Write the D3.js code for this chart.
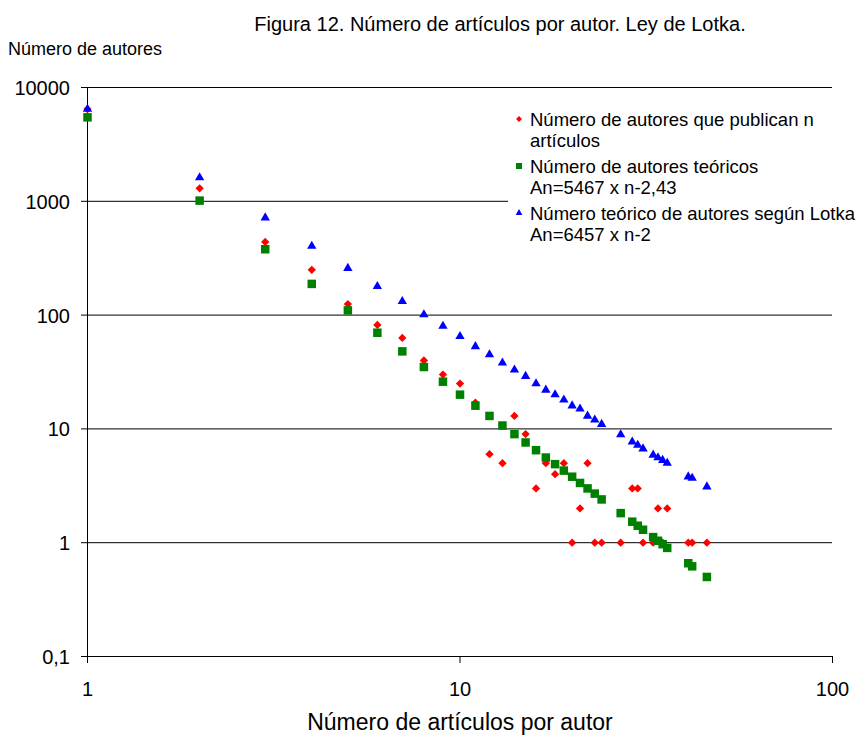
<!DOCTYPE html>
<html><head><meta charset="utf-8">
<script src="https://cdn.jsdelivr.net/npm/d3@7"></script>
<style>body{margin:0;background:#fff}text{font-family:"Liberation Sans",Arial,sans-serif;fill:#000}</style>
</head><body><svg id="c" width="859" height="735"></svg>
<script>
const nValues = [1,2,3,4,5,6,7,8,9,10,11,12,13,14,15,16,17,18,19,20,21,22,23,24,27,29,30,31,33,34,35,36,41,42,46];
const observed = [6457,1300,440,250,125,82,63,40,30,25,17,6,5,13,9,3,5,4,5,1,2,5,1,1,1,3,3,1,1,2,1,2,1,1,1];
const theoretical = [5467,1014,379,188,110,70,48,35,26,20,16,13,10.7,9.0,7.6,6.5,5.6,4.9,4.3,3.8,3.35,3.0,2.7,2.4,1.82,1.53,1.41,1.30,1.12,1.04,0.97,0.90,0.66,0.62,0.50];
const lotka = [6457,1614,717,404,258,179,132,101,80,65,53,45,38,33,29,25,22,20,18,16,15,13,12,11,8.9,7.7,7.2,6.7,5.9,5.6,5.3,5.0,3.8,3.7,3.1];
const yTicks = [0.1,1,10,100,1000,10000];
const yTickLabels = ["0,1","1","10","100","1000","10000"];
const xTicks = [1,10,100];
const xTickLabels = ["1","10","100"];
const legendLabels = [["Número de autores que publican n","artículos"],["Número de autores teóricos","An=5467 x n-2,43"],["Número teórico de autores según Lotka","An=6457 x n-2"]];

const svg = d3.select("#c");
const x = d3.scaleLog().domain([1,100]).range([87.5,832.5]);
const y = d3.scaleLog().domain([0.1,10000]).range([656.5,87.5]);

// grid
svg.append("g").selectAll("line").data(yTicks).join("line")
  .attr("x1",81).attr("x2",832).attr("y1",d=>y(d)).attr("y2",d=>y(d))
  .attr("stroke","#000").attr("stroke-width",1);
// left axis
svg.append("line").attr("x1",87.5).attr("x2",87.5).attr("y1",87).attr("y2",663).attr("stroke","#000");
// bottom ticks
svg.append("g").selectAll("line").data(xTicks).join("line")
  .attr("x1",d=>x(d)).attr("x2",d=>x(d)).attr("y1",656).attr("y2",663).attr("stroke","#000");

svg.append("g").selectAll("text").data(yTicks).join("text")
  .attr("x",70).attr("y",d=>y(d)+7.5).attr("text-anchor","end").attr("font-size",20)
  .text((d,i)=>yTickLabels[i]);
svg.append("g").selectAll("text").data(xTicks).join("text")
  .attr("x",d=>x(d)).attr("y",696).attr("text-anchor","middle").attr("font-size",20)
  .text((d,i)=>xTickLabels[i]);

svg.append("text").attr("x",500).attr("y",31).attr("text-anchor","middle").attr("font-size",20)
  .text("Figura 12. Número de artículos por autor. Ley de Lotka.");
svg.append("text").attr("x",8).attr("y",55).attr("font-size",18).text("Número de autores");
svg.append("text").attr("x",460).attr("y",730).attr("text-anchor","middle").attr("font-size",23)
  .text("Número de artículos por autor");

const pts = nValues.map((n,i)=>({n,o:observed[i],t:theoretical[i],l:lotka[i]}));
const diamond = d3.symbol().type(d3.symbolDiamond2).size(44);
const tri = d3.symbol().type(d3.symbolTriangle).size(38);

svg.append("g").selectAll("path").data(pts).join("path")
  .attr("transform",d=>`translate(${x(d.n)},${y(d.o)})`).attr("d",diamond).attr("fill","#ff0000");
svg.append("g").selectAll("rect").data(pts).join("rect")
  .attr("x",d=>x(d.n)-4.25).attr("y",d=>y(d.t)-4.25).attr("width",8.5).attr("height",8.5).attr("fill","#008000");
svg.append("g").selectAll("path").data(pts).join("path")
  .attr("transform",d=>`translate(${x(d.n)},${y(d.l)})`).attr("d",tri).attr("fill","#0000ff");

// legend
const lg = svg.append("g");
lg.append("rect").attr("x",508).attr("y",100).attr("width",351).attr("height",150).attr("fill","#fff");
const ly = [119,166,213];
lg.append("path").attr("transform",`translate(519,${ly[0]})`).attr("d",d3.symbol().type(d3.symbolDiamond2).size(22)).attr("fill","#ff0000");
lg.append("rect").attr("x",516).attr("y",ly[1]-3).attr("width",6).attr("height",6).attr("fill","#008000");
lg.append("path").attr("transform",`translate(519,${ly[2]})`).attr("d",d3.symbol().type(d3.symbolTriangle).size(20)).attr("fill","#0000ff");
legendLabels.forEach((lines,i)=>{
  lines.forEach((t,j)=>{
    lg.append("text").attr("x",530).attr("y",ly[i]+6.5+j*21).attr("font-size",18.5).text(t);
  });
});
</script></body></html>
